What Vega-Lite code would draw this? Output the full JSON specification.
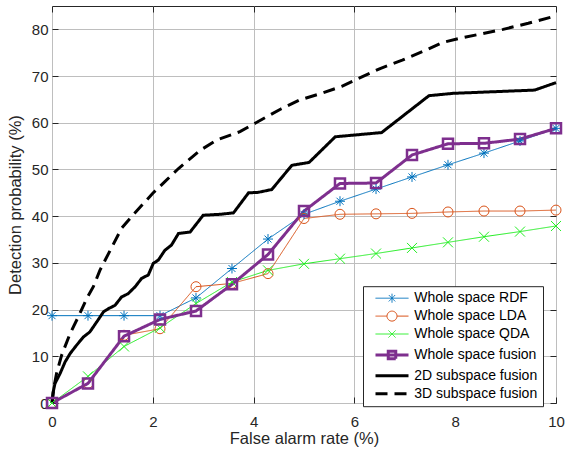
{
  "$schema": "https://vega.github.io/schema/vega-lite/v6.json",
  "width": 504,
  "height": 397,
  "autosize": "none",
  "padding": {"left": 52, "top": 6, "right": 10, "bottom": 51},
  "background": "white",
  "config": {
    "font": "Liberation Sans",
    "view": {"stroke": "#262626", "strokeWidth": 1},
    "axis": {
      "domain": false,
      "grid": true,
      "gridColor": "#bebebe",
      "gridWidth": 1,
      "tickColor": "#262626",
      "tickSize": -6,
      "labelFlush": false,
      "labelFont": "Liberation Sans",
      "labelFontSize": 15,
      "labelColor": "#262626",
      "titleFont": "Liberation Sans",
      "titleFontSize": 16.5,
      "titleFontWeight": "normal",
      "titleColor": "#262626"
    }
  },
  "data": {"values": [
    {"s":"Whole space RDF","x":0,"y":18.7},{"s":"Whole space RDF","x":0.714,"y":18.7},{"s":"Whole space RDF","x":1.429,"y":18.7},{"s":"Whole space RDF","x":2.143,"y":18.7},{"s":"Whole space RDF","x":2.857,"y":22.5},{"s":"Whole space RDF","x":3.571,"y":28.8},{"s":"Whole space RDF","x":4.286,"y":35.1},{"s":"Whole space RDF","x":5,"y":40.4},{"s":"Whole space RDF","x":5.714,"y":43.2},{"s":"Whole space RDF","x":6.429,"y":45.8},{"s":"Whole space RDF","x":7.143,"y":48.4},{"s":"Whole space RDF","x":7.857,"y":51.0},{"s":"Whole space RDF","x":8.571,"y":53.5},{"s":"Whole space RDF","x":9.286,"y":56.1},{"s":"Whole space RDF","x":10,"y":58.8},
    {"s":"Whole space LDA","x":0,"y":0},{"s":"Whole space LDA","x":0.714,"y":4.2},{"s":"Whole space LDA","x":1.429,"y":14.5},{"s":"Whole space LDA","x":2.143,"y":15.9},{"s":"Whole space LDA","x":2.857,"y":24.9},{"s":"Whole space LDA","x":3.571,"y":25.6},{"s":"Whole space LDA","x":4.286,"y":27.7},{"s":"Whole space LDA","x":5,"y":39.5},{"s":"Whole space LDA","x":5.714,"y":40.4},{"s":"Whole space LDA","x":6.429,"y":40.5},{"s":"Whole space LDA","x":7.143,"y":40.6},{"s":"Whole space LDA","x":7.857,"y":40.9},{"s":"Whole space LDA","x":8.571,"y":41.1},{"s":"Whole space LDA","x":9.286,"y":41.1},{"s":"Whole space LDA","x":10,"y":41.3},
    {"s":"Whole space QDA","x":0,"y":0},{"s":"Whole space QDA","x":0.714,"y":5.7},{"s":"Whole space QDA","x":1.429,"y":12.1},{"s":"Whole space QDA","x":2.143,"y":16.1},{"s":"Whole space QDA","x":2.857,"y":21.3},{"s":"Whole space QDA","x":3.571,"y":25.9},{"s":"Whole space QDA","x":4.286,"y":28.4},{"s":"Whole space QDA","x":5,"y":29.8},{"s":"Whole space QDA","x":5.714,"y":30.9},{"s":"Whole space QDA","x":6.429,"y":32.0},{"s":"Whole space QDA","x":7.143,"y":33.2},{"s":"Whole space QDA","x":7.857,"y":34.4},{"s":"Whole space QDA","x":8.571,"y":35.6},{"s":"Whole space QDA","x":9.286,"y":36.7},{"s":"Whole space QDA","x":10,"y":37.9},
    {"s":"Whole space fusion","x":0,"y":0},{"s":"Whole space fusion","x":0.714,"y":4.2},{"s":"Whole space fusion","x":1.429,"y":14.3},{"s":"Whole space fusion","x":2.143,"y":17.9},{"s":"Whole space fusion","x":2.857,"y":19.7},{"s":"Whole space fusion","x":3.571,"y":25.4},{"s":"Whole space fusion","x":4.286,"y":31.8},{"s":"Whole space fusion","x":5,"y":41.1},{"s":"Whole space fusion","x":5.714,"y":47.0},{"s":"Whole space fusion","x":6.429,"y":47.1},{"s":"Whole space fusion","x":7.143,"y":53.1},{"s":"Whole space fusion","x":7.857,"y":55.5},{"s":"Whole space fusion","x":8.571,"y":55.6},{"s":"Whole space fusion","x":9.286,"y":56.5},{"s":"Whole space fusion","x":10,"y":58.8},
    {"s":"2D subspace fusion","x":0,"y":0},{"s":"2D subspace fusion","x":0.02,"y":2.2},{"s":"2D subspace fusion","x":0.06,"y":4.2},{"s":"2D subspace fusion","x":0.16,"y":6.3},{"s":"2D subspace fusion","x":0.26,"y":8.8},{"s":"2D subspace fusion","x":0.36,"y":10.6},{"s":"2D subspace fusion","x":0.49,"y":12.4},{"s":"2D subspace fusion","x":0.62,"y":14.1},{"s":"2D subspace fusion","x":0.75,"y":15.2},{"s":"2D subspace fusion","x":0.89,"y":17.4},{"s":"2D subspace fusion","x":1.02,"y":19.5},{"s":"2D subspace fusion","x":1.12,"y":20.2},{"s":"2D subspace fusion","x":1.25,"y":20.9},{"s":"2D subspace fusion","x":1.38,"y":22.7},{"s":"2D subspace fusion","x":1.51,"y":23.4},{"s":"2D subspace fusion","x":1.65,"y":24.9},{"s":"2D subspace fusion","x":1.78,"y":26.7},{"s":"2D subspace fusion","x":1.91,"y":27.4},{"s":"2D subspace fusion","x":2.01,"y":29.9},{"s":"2D subspace fusion","x":2.11,"y":30.6},{"s":"2D subspace fusion","x":2.24,"y":32.7},{"s":"2D subspace fusion","x":2.37,"y":33.8},{"s":"2D subspace fusion","x":2.51,"y":36.3},{"s":"2D subspace fusion","x":2.74,"y":36.6},{"s":"2D subspace fusion","x":3.0,"y":40.2},{"s":"2D subspace fusion","x":3.33,"y":40.4},{"s":"2D subspace fusion","x":3.6,"y":40.7},{"s":"2D subspace fusion","x":3.9,"y":45.0},{"s":"2D subspace fusion","x":4.09,"y":45.1},{"s":"2D subspace fusion","x":4.36,"y":45.7},{"s":"2D subspace fusion","x":4.76,"y":50.9},{"s":"2D subspace fusion","x":5.1,"y":51.5},{"s":"2D subspace fusion","x":5.62,"y":57.0},{"s":"2D subspace fusion","x":6.54,"y":57.9},{"s":"2D subspace fusion","x":7.48,"y":65.8},{"s":"2D subspace fusion","x":7.96,"y":66.3},{"s":"2D subspace fusion","x":9.58,"y":67.0},{"s":"2D subspace fusion","x":10,"y":68.6},
    {"s":"3D subspace fusion","x":0,"y":0},{"s":"3D subspace fusion","x":0.04,"y":3.5},{"s":"3D subspace fusion","x":0.09,"y":6.3},{"s":"3D subspace fusion","x":0.19,"y":10.2},{"s":"3D subspace fusion","x":0.36,"y":14.9},{"s":"3D subspace fusion","x":0.52,"y":18.4},{"s":"3D subspace fusion","x":0.69,"y":22.4},{"s":"3D subspace fusion","x":0.82,"y":24.9},{"s":"3D subspace fusion","x":0.95,"y":28.4},{"s":"3D subspace fusion","x":1.16,"y":32.8},{"s":"3D subspace fusion","x":1.38,"y":37.4},{"s":"3D subspace fusion","x":1.61,"y":40.3},{"s":"3D subspace fusion","x":2.0,"y":44.9},{"s":"3D subspace fusion","x":2.24,"y":47.4},{"s":"3D subspace fusion","x":2.51,"y":50.2},{"s":"3D subspace fusion","x":2.94,"y":54.1},{"s":"3D subspace fusion","x":3.27,"y":56.3},{"s":"3D subspace fusion","x":3.73,"y":58.1},{"s":"3D subspace fusion","x":4.03,"y":59.9},{"s":"3D subspace fusion","x":4.55,"y":63.0},{"s":"3D subspace fusion","x":4.92,"y":64.9},{"s":"3D subspace fusion","x":5.32,"y":66.2},{"s":"3D subspace fusion","x":5.75,"y":67.8},{"s":"3D subspace fusion","x":6.08,"y":69.5},{"s":"3D subspace fusion","x":6.51,"y":71.6},{"s":"3D subspace fusion","x":6.95,"y":73.4},{"s":"3D subspace fusion","x":7.43,"y":75.6},{"s":"3D subspace fusion","x":7.75,"y":77.2},{"s":"3D subspace fusion","x":8.1,"y":78.1},{"s":"3D subspace fusion","x":8.55,"y":79.1},{"s":"3D subspace fusion","x":8.95,"y":80.0},{"s":"3D subspace fusion","x":9.45,"y":81.3},{"s":"3D subspace fusion","x":10,"y":82.9}
  ]},
  "resolve": {"axis": {"x": "independent", "y": "independent"}},
  "layer": [
    {
      "mark": {"type": "line", "clip": false},
      "encoding": {
        "x": {"field": "x", "type": "quantitative", "scale": {"domain": [0, 10], "nice": false, "zero": false},
              "axis": {"orient": "bottom", "values": [0,2,4,6,8,10], "title": "False alarm rate (%)", "labelPadding": 17, "titlePadding": 1}},
        "y": {"field": "y", "type": "quantitative", "scale": {"domain": [0, 85], "nice": false},
              "axis": {"orient": "left", "values": [0,10,20,30,40,50,60,70,80], "title": "Detection probability (%)", "labelPadding": 10, "titlePadding": 8}},
        "color": {"field": "s", "type": "nominal",
          "scale": {"domain": ["Whole space RDF","Whole space LDA","Whole space QDA","Whole space fusion","2D subspace fusion","3D subspace fusion"],
                    "range": ["#0072BD","#D95319","#22EE22","#7E2F8E","#000000","#000000"]},
          "legend": {
            "title": null,
            "orient": "none",
            "legendX": 311,
            "legendY": 280.2,
            "padding": 5,
            "fillColor": "white",
            "strokeColor": "#262626",
            "cornerRadius": 0,
            "labelFont": "Liberation Sans",
            "labelFontSize": 14,
            "labelColor": "#000000",
            "labelOffset": 32.2,
            "rowPadding": 3.9,
            "symbolSize": 100,
            "labelExpr": "datum.label + '\u2002'",
            "encode": {"symbols": {"update": {
              "shape": {"signal": "datum.value === 'Whole space RDF' ? 'M0.1,0L6.7,0M3.4,-0.9L3.4,0.9M2.76,-0.64L4.04,0.64M2.76,0.64L4.04,-0.64' : datum.value === 'Whole space LDA' ? 'M0.1,0L2.4,0M4.4,0L6.7,0M2.4,0A1,1 0 1,1 4.4,0A1,1 0 1,1 2.4,0' : datum.value === 'Whole space QDA' ? 'M0.1,0L6.7,0M2.7,-0.7L4.1,0.7M2.7,0.7L4.1,-0.7' : datum.value === 'Whole space fusion' ? 'M0.1,0L6.7,0M2.65,-0.75L4.15,-0.75L4.15,0.75L2.65,0.75Z' : 'M0.1,0L6.7,0'"},
              "strokeWidth": {"signal": "(datum.value === 'Whole space fusion' || datum.value === '2D subspace fusion' || datum.value === '3D subspace fusion') ? 3 : 1"},
              "strokeDash": {"signal": "datum.value === '3D subspace fusion' ? [13,7] : [1,0]"},
              "fill": {"value": "transparent"},
              "opacity": {"value": 1}
            }}}
          }},
        "strokeWidth": {"condition": {"test": "datum.s === 'Whole space fusion' || datum.s === '2D subspace fusion' || datum.s === '3D subspace fusion'", "value": 3}, "value": 1},
        "strokeDash": {"field": "s", "type": "nominal",
          "scale": {"domain": ["Whole space RDF","Whole space LDA","Whole space QDA","Whole space fusion","2D subspace fusion","3D subspace fusion"], "range": [[1,0],[1,0],[1,0],[1,0],[1,0],[12,7]]}, "legend": null}
      }
    },
    {
      "transform": [{"filter": {"field": "s", "oneOf": ["Whole space RDF","Whole space LDA","Whole space QDA","Whole space fusion"]}}],
      "mark": {"type": "point", "filled": false, "opacity": 1, "clip": false},
      "encoding": {
        "x": {"field": "x", "type": "quantitative",
              "axis": {"orient": "top", "values": [0,2,4,6,8,10], "labels": false, "grid": false, "title": null}},
        "y": {"field": "y", "type": "quantitative",
              "axis": {"orient": "right", "values": [0,10,20,30,40,50,60,70,80], "labels": false, "grid": false, "title": null}},
        "color": {"field": "s", "type": "nominal", "legend": null},
        "shape": {"field": "s", "type": "nominal",
          "scale": {"domain": ["Whole space RDF","Whole space LDA","Whole space QDA","Whole space fusion"],
                    "range": ["M0,-1L0,1M-1,0L1,0M-0.7,-0.7L0.7,0.7M-0.7,0.7L0.7,-0.7","circle","M-1,-1L1,1M-1,1L1,-1","square"]}, "legend": null},
        "size": {"field": "s", "type": "nominal",
          "scale": {"domain": ["Whole space RDF","Whole space LDA","Whole space QDA","Whole space fusion"], "range": [100,100,49,52]}, "legend": null},
        "strokeWidth": {"condition": {"test": "datum.s === 'Whole space fusion'", "value": 2.5}, "value": 1}
      }
    }
  ]
}
